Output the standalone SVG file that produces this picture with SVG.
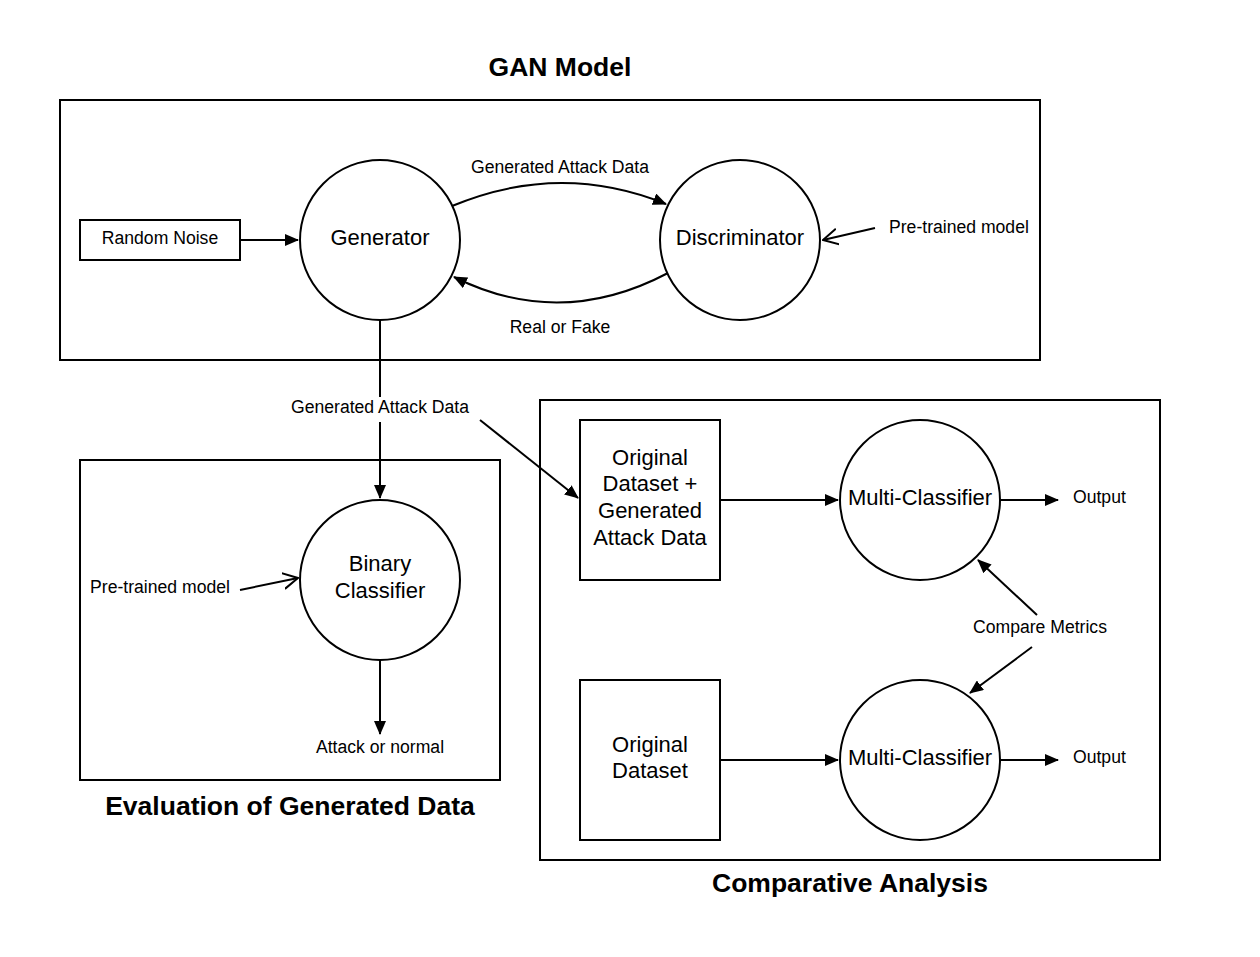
<svg xmlns="http://www.w3.org/2000/svg" width="1260" height="957" viewBox="0 0 1260 957">
<style>
.box{fill:none;stroke:#000;stroke-width:2}
.node{fill:#fff;stroke:#000;stroke-width:2}
.ln{fill:none;stroke:#000;stroke-width:2}
.t{font-family:"Liberation Sans",Arial,sans-serif;font-size:17.6px;fill:#000;text-anchor:middle}
.tl{font-family:"Liberation Sans",Arial,sans-serif;font-size:17.6px;fill:#000}
.big{font-family:"Liberation Sans",Arial,sans-serif;font-size:22px;fill:#000;text-anchor:middle}
.title{font-family:"Liberation Sans",Arial,sans-serif;font-size:26.5px;font-weight:bold;fill:#000;text-anchor:middle}
</style>
<defs>
<marker id="fa" viewBox="0 0 14 12" refX="13" refY="6" markerWidth="14" markerHeight="12" markerUnits="userSpaceOnUse" orient="auto">
<path d="M0,0 L14,6 L0,12 Z" fill="#000"/>
</marker>
<marker id="oa" viewBox="0 0 16 18" refX="15" refY="9" markerWidth="16" markerHeight="18" markerUnits="userSpaceOnUse" orient="auto">
<path d="M0,1 L15,9 L0,17" fill="none" stroke="#000" stroke-width="2"/>
</marker>
</defs>
<rect width="1260" height="957" fill="#fff"/>

<g id="groups">
<text class="title" x="560" y="76">GAN Model</text>
<rect class="box" x="60" y="100" width="980" height="260"/>
<rect class="box" x="80" y="460" width="420" height="320"/>
<text class="title" x="290" y="815">Evaluation of Generated Data</text>
<rect class="box" x="540" y="400" width="620" height="460"/>
<text class="title" x="850" y="892">Comparative Analysis</text>
</g>

<g id="connectors">
<line class="ln" x1="240" y1="240" x2="298" y2="240" marker-end="url(#fa)"/>
<path class="ln" d="M452,206 Q560,161 666,204" marker-end="url(#fa)"/>
<path class="ln" d="M668,273 Q560,330 454,277" marker-end="url(#fa)"/>
<line class="ln" x1="875" y1="228" x2="823" y2="240" marker-end="url(#oa)"/>
<line class="ln" x1="380" y1="320" x2="380" y2="397"/>
<line class="ln" x1="380" y1="422" x2="380" y2="498" marker-end="url(#fa)"/>
<line class="ln" x1="480" y1="420" x2="578" y2="498" marker-end="url(#fa)"/>
<line class="ln" x1="240" y1="590" x2="298" y2="578" marker-end="url(#oa)"/>
<line class="ln" x1="380" y1="660" x2="380" y2="734" marker-end="url(#fa)"/>
<line class="ln" x1="720" y1="500" x2="838" y2="500" marker-end="url(#fa)"/>
<line class="ln" x1="1000" y1="500" x2="1058" y2="500" marker-end="url(#fa)"/>
<line class="ln" x1="720" y1="760" x2="838" y2="760" marker-end="url(#fa)"/>
<line class="ln" x1="1000" y1="760" x2="1058" y2="760" marker-end="url(#fa)"/>
<line class="ln" x1="1037" y1="615" x2="978" y2="560" marker-end="url(#fa)"/>
<line class="ln" x1="1032" y1="647" x2="970" y2="693" marker-end="url(#fa)"/>
<text class="t" x="560" y="173">Generated Attack Data</text>
<text class="t" x="560" y="333">Real or Fake</text>
<text class="tl" x="889" y="233">Pre-trained model</text>
<text class="t" x="380" y="413">Generated Attack Data</text>
<text class="t" x="160" y="593">Pre-trained model</text>
<text class="t" x="380" y="753">Attack or normal</text>
<text class="tl" x="1073" y="503">Output</text>
<text class="tl" x="1073" y="763">Output</text>
<text class="t" x="1040" y="633">Compare Metrics</text>
</g>

<g id="random-noise">
<rect class="node" x="80" y="220" width="160" height="40"/>
<text class="t" x="160" y="244">Random Noise</text>
</g>
<g id="generator">
<circle class="node" cx="380" cy="240" r="80"/>
<text class="big" x="380" y="245">Generator</text>
</g>
<g id="discriminator">
<circle class="node" cx="740" cy="240" r="80"/>
<text class="big" x="740" y="245">Discriminator</text>
</g>
<g id="binary-classifier">
<circle class="node" cx="380" cy="580" r="80"/>
<text class="big" x="380" y="571">Binary</text>
<text class="big" x="380" y="598">Classifier</text>
</g>
<g id="orig-gen-dataset">
<rect class="node" x="580" y="420" width="140" height="160"/>
<text class="big" x="650" y="465">Original</text>
<text class="big" x="650" y="491">Dataset +</text>
<text class="big" x="650" y="518">Generated</text>
<text class="big" x="650" y="545">Attack Data</text>
</g>
<g id="multi-classifier-1">
<circle class="node" cx="920" cy="500" r="80"/>
<text class="big" x="920" y="505">Multi-Classifier</text>
</g>
<g id="orig-dataset">
<rect class="node" x="580" y="680" width="140" height="160"/>
<text class="big" x="650" y="752">Original</text>
<text class="big" x="650" y="778">Dataset</text>
</g>
<g id="multi-classifier-2">
<circle class="node" cx="920" cy="760" r="80"/>
<text class="big" x="920" y="765">Multi-Classifier</text>
</g>
</svg>
